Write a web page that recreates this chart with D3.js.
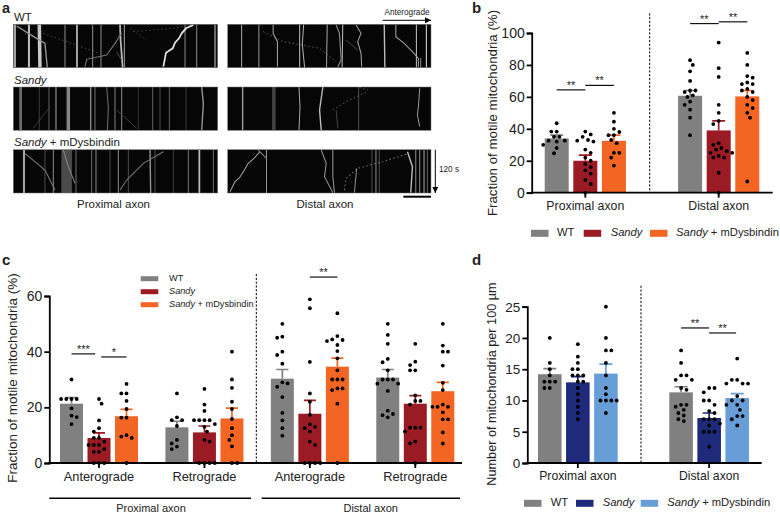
<!DOCTYPE html>
<html><head><meta charset="utf-8">
<script src="https://d3js.org/d3.v7.min.js"></script>
<style>html,body{margin:0;padding:0;background:#fff}svg{display:block}text{font-family:"Liberation Sans",Arial,sans-serif;fill:#222}</style>
</head><body><svg id="c" width="780" height="515"></svg>
<script>
// ---------- data: kymograph tracks, [intensity, thickness, dashed, [position, time]...] ----------
const wtProx=[[.6,6,0,[5,0],[5,130]],[.7,6,0,[47,0],[47,130]],[.75,10,0,[78,0],[80,130]],[.5,3,0,[155,0],[155,130]],[.85,4,0,[191,0],[191,130]],[.5,3,0,[238,0],[238,130]],[.5,3,0,[263,0],[263,130]],[.7,5,0,[320,0],[322,50],[328,130]],[.6,3,0,[333,0],[333,130]],[.5,3,0,[515,0],[515,130]],[.5,3,0,[550,0],[550,130]],[.4,6,0,[605,0],[605,130]],[.55,4,0,[10,5],[50,30],[95,57],[102,130]],[.85,5,0,[540,2],[518,12],[505,27],[497,42],[485,55],[478,72],[458,85],[450,127]],[.45,3,0,[215,127],[220,105],[280,92],[305,57],[325,27]],[.4,2,1,[90,27],[260,87]],[.35,2,1,[350,12],[400,47]],[.35,2,1,[360,22],[480,12],[530,2]],[.4,2,0,[310,82],[325,107]]];
const wtDist=[[.6,3,0,[42,0],[42,130]],[.55,3,0,[94,0],[94,130]],[.6,3,0,[137,2],[137,27],[150,52],[150,127]],[.7,3,0,[217,0],[217,130]],[.65,3,0,[229,0],[225,60],[232,130]],[.6,3,0,[300,0],[298,130]],[.7,3,0,[347,0],[345,130]],[.55,3,0,[327,2],[337,27],[342,107],[332,127]],[.6,3,0,[387,2],[402,27],[392,52],[402,87],[404,127]],[.7,4,0,[472,0],[474,130]],[.6,3,0,[507,2],[507,37],[532,57],[557,82],[575,102],[575,127]],[.7,3,0,[569,0],[569,130]],[.8,3,0,[599,0],[599,130]],[.5,3,0,[582,100],[582,130]],[.5,2,1,[107,22],[167,52],[277,72],[327,112]],[.4,2,0,[357,47],[392,77]]];
const sandyProx=[[.4,8,0,[22,0],[22,130]],[.3,2,0,[78,0],[78,130]],[.35,3,0,[107,0],[107,130]],[.45,4,0,[128,0],[128,130]],[.5,10,0,[165,0],[165,130]],[.5,4,0,[232,0],[232,130]],[.4,3,0,[245,0],[245,130]],[.4,3,0,[280,0],[285,60],[282,130]],[.45,3,0,[305,0],[305,130]],[.5,3,0,[325,0],[325,130]],[.25,2,0,[375,0],[375,130]],[.35,3,0,[418,0],[418,130]],[.4,2,0,[440,0],[440,130]],[.35,3,0,[468,0],[468,130]],[.3,2,0,[518,0],[518,130]],[.55,4,0,[565,0],[570,50],[565,130]],[.3,2,0,[60,124],[110,59]],[.3,2,0,[310,69],[370,124]]];
const sandyDist=[[.6,4,0,[45,0],[45,130]],[.25,10,0,[139,0],[139,130]],[.6,3,0,[215,0],[218,60],[215,130]],[.7,4,0,[287,0],[277,69],[282,130]],[.35,2,0,[327,69],[332,124]],[.4,2,0,[395,0],[395,130]],[.55,3,0,[579,4],[575,59],[572,84],[579,119]],[.5,2,1,[317,69],[367,39],[422,14]],[.45,2,1,[397,1],[422,9]]];
const rescueProx=[[.6,6,0,[32,0],[32,130]],[.4,2,0,[95,0],[95,130]],[.5,3,0,[120,0],[120,130]],[.28,30,0,[160,0],[160,130]],[.4,3,0,[188,0],[188,130]],[.4,3,0,[235,0],[235,130]],[.5,3,0,[248,0],[248,130]],[.35,2,0,[290,0],[290,130]],[.5,3,0,[315,0],[315,130]],[.4,2,0,[345,0],[345,130]],[.55,4,0,[410,0],[412,130]],[.4,2,0,[425,0],[425,130]],[.3,2,0,[480,0],[480,130]],[.4,3,0,[525,0],[525,130]],[.7,5,0,[558,0],[558,130]],[.4,3,0,[600,0],[600,130]],[.5,3,0,[150,1],[165,50],[185,101]],[.45,3,0,[35,11],[95,61],[125,121]],[.45,3,0,[320,121],[340,91],[390,41],[450,6]]];
const rescueDist=[[.6,3,0,[7,126],[22,96],[35,85],[47,66],[62,41],[80,25],[97,6]],[.5,3,0,[92,1],[117,26]],[.55,3,0,[117,0],[117,130]],[.55,3,0,[282,1],[297,41],[292,81],[317,129]],[.55,3,0,[317,1],[317,81],[322,129]],[.45,3,1,[352,121],[357,86],[392,56],[467,36],[547,11]],[.5,3,0,[389,56],[382,129]],[.4,2,0,[435,0],[435,130]],[.5,3,0,[447,0],[447,130]],[.4,2,0,[457,0],[457,130]],[.7,4,0,[542,6],[557,51],[552,129]],[.5,3,0,[567,0],[567,130]],[.5,3,0,[579,0],[579,130]],[.6,3,0,[592,0],[592,130]],[.5,2,0,[602,0],[602,130]]];

// ---------- data: bar charts ----------
const seriesNames=["WT","Sandy","Sandy + mDysbindin"];
const axonGroups=["Proximal axon","Distal axon"];
const directionGroups=["Anterograde (P)","Retrograde (P)","Anterograde (D)","Retrograde (D)"];

const bMeans=[[34,20,32.5],[60.7,39,60.3]];
const bErrors=[[36,23.5,36],[64,45,64]];
const bDots=[[[43.5,38.3,38.3,35,35,32.6,32.6,32,30,28,24.7],[38.3,36.5,35,33,32.6,32,27,25,22,20,18,16,14,12,8,5.5,0],[50,44.5,40,38,36,36,33,31,25,25,22,17]],
[[83,80,76,70,64,64,63,61,60,57,55,52,47,36],[94,78,72.5,55,50,45,43,31,30,28,27,26,25,25,23,22,22,12.5,0],[87.5,80,73,72,69,68,68,65,64,63,60,58,55,53,50,47,7]]];
const bSig=[[0,0,1,64.4,"**"],[0,1,2,67.2,"**"],[1,0,1,105.9,"**"],[1,1,2,107,"**"]];

const cMeans=[[21.3,9,16.8],[12.8,11,16],[30.3,17.7,34.6],[30.7,21.3,25.8]];
const cErrors=[[23.5,10.8,19.3],[15,13.3,19.7],[33.6,22.5,37.7],[33.6,24.2,29]];
const cDots=[[[30,23,23,23,23,19.6,17,16.5,14],[23,21.3,15.3,12.5,11.3,9,9,7.7,6.5,6.5,6.5,5,4,4,0,0,0],[28.4,25,25,22.3,19.4,16.3,16.3,10,9.5,9,0]],
[[25,16.4,15.4,15.4,13.3,8.3,7,5.9,5],[26.6,21,18.7,15.4,15.4,15.4,15.4,14,13,11.3,8.3,7.7,0,0,0,0],[40,30,27,22,19.4,15.8,12.5,10,8.3,6,0,0]],
[[50,45.4,45,40,38.8,35.7,29,28.6,27.4,23.7,18,15.3,12.5,9.8],[58.8,55.6,36.3,25,22,17.3,13.9,13,12.5,11.3,7.7,6.5,0,0,0,0],[53.8,45.6,44.4,44.2,43.8,42.4,40.2,37.6,33.3,30,30,30,26.8,26.8,26.2,21.3,0]],
[[50,46,42.8,37.4,36.2,33.3,30,30,30,28.5,28.5,25.9,18.8,17.6,17.2,16.4],[42.8,36.4,35.2,33.3,33.3,24.3,22.3,22.3,21,12.7,12.7,12.7,11.3,7.7,7,0],[50,42.2,40,40,35,28.8,26.2,21,20.2,20.2,20.2,18.2,15.7,15.7,11,7]]];
const cSig=[[0,0,.86,39.2,"***"],[0,1.08,2,38.1,"*"],[2,1,2,66.8,"**"]];

const dMeans=[[14.2,12.9,14.3],[11.3,7.2,10.4]];
const dErrors=[[15.1,13.8,15.8],[12.2,8,11.1]];
const dDots=[[[20,16,15,14,13,13,13,12,12],[19,17,16,15,15,14,14,14,13,13,12,11,10,9,8,7],[25,20,18,18,16,14,12,11,10,10,10,10,8]],
[[18,16,14,14,13.3,13.3,12,11.7,9.3,9.3,9,8.5,8,7.6,7,6.7],[12,12,11.3,10,10,9.3,8.3,8,7,7,7,6.3,6,5,5,5,2.6],[16.7,13.3,13.3,12.7,12.7,12.7,10.7,10,10,9.3,9.3,8.5,7.5,7.5,7,6]]];
const dSig=[[1,0,1,21.6,"**"],[1,1,1.96,20.8,"**"]];

const redPalette=["#808080","#9b1b24","#f26522"];
const bluePalette=["#808080","#1f2a7a","#689ed8"];

// ---------- drawing ----------
const svg=d3.select("#c");
const defs=svg.append("defs");
defs.append("filter").attr("id","soft").append("feGaussianBlur").attr("stdDeviation",.6);
defs.append("marker").attr("id","arA").attr("viewBox","0 0 6 6").attr("refX",6).attr("refY",3).attr("markerWidth",6).attr("markerHeight",6).attr("markerUnits","userSpaceOnUse").attr("orient","auto")
   .append("path").attr("d","M0,0L6,3L0,6Z").attr("fill","#000");
function txt(x,y,s,size,o={}){
  const t=svg.append("text").attr("x",x).attr("y",y).attr("font-size",size)
    .attr("text-anchor",o.anchor||"start").attr("dominant-baseline","middle");
  if(o.bold)t.attr("font-weight","bold");
  if(o.rotate)t.attr("transform",`rotate(-90,${x},${y})`);
  return t.text(s);
}
function seriesLabel(sel,name){
  sel.text(null);
  if(name==="WT"){sel.text("WT");return;}
  sel.append("tspan").attr("font-style","italic").text("Sandy");
  if(name!=="Sandy")sel.append("tspan").text(" + mDysbindin");
}
// panel a
function kymo(tracks,x0,x1,y0,y1){
  const x=d3.scaleLinear().domain([0,613]).range([x0,x1]);
  const t=d3.scaleLinear().domain([0,130]).range([y0,y1]);
  const id="k"+Math.round(x0)+"_"+Math.round(y0);
  defs.append("clipPath").attr("id",id).append("rect").attr("x",x0).attr("y",y0).attr("width",x1-x0).attr("height",y1-y0);
  svg.append("rect").attr("x",x0).attr("y",y0).attr("width",x1-x0).attr("height",y1-y0).attr("fill","#060606");
  const line=d3.line().x(d=>x(d[0])).y(d=>t(d[1]));
  svg.append("g").attr("clip-path",`url(#${id})`).append("g").attr("filter","url(#soft)")
    .selectAll("path").data(tracks).join("path")
    .attr("fill","none").attr("d",d=>line(d.slice(3)))
    .attr("stroke",d=>d3.interpolateRgb("#000","#fff")(Math.min(1,d[0]*1.05)))
    .attr("stroke-width",d=>(x(d[1])-x(0))*1.05)
    .attr("stroke-dasharray",d=>d[2]?"1.5,2.5":null);
  svg.append("rect").attr("x",x0).attr("y",y0).attr("width",x1-x0).attr("height",y1-y0).attr("fill","none").attr("stroke","#777").attr("stroke-width",.5);
}
const colsA=[[13.3,217.7],[227.7,431]],rowsA=[[24.3,67.7],[87,130.3],[149.7,193]];
[[wtProx,wtDist],[sandyProx,sandyDist],[rescueProx,rescueDist]].forEach((row,r)=>row.forEach((tr,c)=>kymo(tr,colsA[c][0],colsA[c][1],rowsA[r][0],rowsA[r][1])));
txt(2,9,"a",14.5,{bold:1});
txt(14,18,"WT",11.5);
seriesLabel(txt(14,80.5,"",11.5),"Sandy");
seriesLabel(txt(14,143,"",11.5),"Sandy + mDysbindin");
txt(113.5,205,"Proximal axon",11.5,{anchor:"middle"});
txt(325,205,"Distal axon",11.5,{anchor:"middle"});
txt(407,12.5,"Anterograde",8.2,{anchor:"middle"});
svg.append("line").attr("x1",382.7).attr("x2",431).attr("y1",20.3).attr("y2",20.3).attr("stroke","#000").attr("marker-end","url(#arA)");
svg.append("line").attr("x1",435.3).attr("x2",435.3).attr("y1",149.7).attr("y2",193).attr("stroke","#000").attr("marker-end","url(#arA)");
txt(439,170,"120 s",8.2);
svg.append("line").attr("x1",403.3).attr("x2",431).attr("y1",196.7).attr("y2",196.7).attr("stroke","#000").attr("stroke-width",2);

function swarm(vals,y,minD){
  const placed=[];
  [...vals].sort((a,b)=>b-a).forEach((v,i)=>{
    const py=y(v);let k=0,off=0;
    const sign=i%2?1:-1;
    while(true){
      off=k===0?0:(k%2?sign:-sign)*Math.ceil(k/2)*minD/2;
      if(placed.every(p=>Math.hypot(p.x-off,p.y-py)>=minD))break;
      k++;
    }
    placed.push({x:off,y:py});
  });
  return placed;
}
function barPanel(p){
  const y=d3.scaleLinear().domain(p.yDomain).range([p.yBottom,p.yTop]);
  const gx=d3.scaleBand().domain(p.groups).range(p.range).paddingInner(p.groupPad);
  const bx=d3.scaleBand().domain(d3.range(3)).range([0,gx.bandwidth()]).paddingInner(p.barPad);
  const root=svg.append("g");
  p.groups.forEach((g,gi)=>{
    const G=root.append("g").attr("transform",`translate(${gx(g)},0)`);
    G.selectAll("rect").data(p.means[gi]).join("rect")
      .attr("x",(d,i)=>bx(i)).attr("width",bx.bandwidth())
      .attr("y",d=>y(d)).attr("height",d=>y(0)-y(d)).attr("fill",(d,i)=>p.colors[i]);
    p.errors[gi].forEach((e,i)=>{
      const cx=bx(i)+bx.bandwidth()/2;
      G.append("path").attr("d",`M${cx},${y(p.means[gi][i])}V${y(e)}M${cx-p.cap},${y(e)}H${cx+p.cap}`)
        .attr("fill","none").attr("stroke",p.colors[i]).attr("stroke-width",1.7);
    });
    p.dots[gi].forEach((vals,i)=>{
      const cx=bx(i)+bx.bandwidth()/2;
      G.append("g").selectAll("circle").data(swarm(vals,y,p.minD)).join("circle")
        .attr("cx",d=>cx+d.x).attr("cy",d=>d.y).attr("r",1.9).attr("fill","#000");
    });
  });
  const barX=(g,i)=>gx(p.groups[g])+bx(0)+bx.bandwidth()/2+i*bx.step();
  p.sig.forEach(([g,a,b,v,s])=>{
    root.append("line").attr("x1",barX(g,a)).attr("x2",barX(g,b)).attr("y1",y(v)).attr("y2",y(v)).attr("stroke","#111").attr("stroke-width",1.2);
    root.append("text").attr("x",(barX(g,a)+barX(g,b))/2).attr("y",y(v)-1).attr("text-anchor","middle").attr("font-size",11).text(s);
  });
  const yAxis=d3.axisLeft(y).tickValues(p.ticks).tickSizeOuter(0).tickSize(5).tickPadding(2);
  const ya=svg.append("g").attr("transform",`translate(${p.axisX},0)`).call(yAxis);
  ya.selectAll("text").attr("font-size",p.tickFont).attr("fill","#222");
  ya.selectAll(".domain,line").attr("stroke","#000").attr("stroke-width",1.8);
  const xa=svg.append("g").attr("transform",`translate(0,${p.yBottom})`);
  xa.append("line").attr("x1",p.axisX-1).attr("x2",p.axisEnd).attr("stroke","#000").attr("stroke-width",1.8);
  p.groups.forEach((g,gi)=>{
    const cx=gx(g)+gx.bandwidth()/2;
    xa.append("line").attr("x1",cx).attr("x2",cx).attr("y2",5).attr("stroke","#000").attr("stroke-width",1.8);
    xa.append("text").attr("x",cx).attr("y",p.xLabelY).attr("text-anchor","middle").attr("dominant-baseline","middle").attr("font-size",p.xFont).text(g.replace(/ \(.\)$/,""));
  });
  svg.append("line").attr("x1",p.sepX).attr("x2",p.sepX).attr("y1",p.sepTop).attr("y2",p.yBottom).attr("stroke","#000").attr("stroke-width",1).attr("stroke-dasharray","2.2,1.6");
  txt(p.titleX,p.titleY,p.title,p.titleFont,{anchor:"middle",rotate:1});
}
function hLegend(items,colors,y,size){
  items.forEach((it,i)=>{
    svg.append("rect").attr("x",it[0]).attr("y",y-3.5).attr("width",17.5).attr("height",7).attr("fill",colors[i]);
    seriesLabel(txt(it[1],y,"",size),seriesNames[i]);
  });
}
barPanel({groups:axonGroups,means:bMeans,errors:bErrors,dots:bDots,sig:bSig,colors:redPalette,yDomain:[0,100],yBottom:192.7,yTop:33,range:[544.7,759.3],groupPad:.391,barPad:.16,cap:6.5,minD:5.4,ticks:[0,20,40,60,80,100],axisX:531.7,axisEnd:772.7,tickFont:14,xFont:12.3,xLabelY:14.5,sepX:649.7,sepTop:13.3,title:"Fraction of motile mitochondria (%)",titleX:493,titleY:113,titleFont:13.3});
hLegend([[531,557],[583.7,610.7],[650,676]],redPalette,233.3,11.2);
txt(472,9,"b",15,{bold:1});

barPanel({groups:directionGroups,means:cMeans,errors:cErrors,dots:cDots,sig:cSig,colors:redPalette,yDomain:[0,60],yBottom:463,yTop:296,range:[60,454.3],groupPad:.26,barPad:.164,cap:6,minD:5.2,ticks:[0,20,40,60],axisX:49.3,axisEnd:462,tickFont:14,xFont:12.8,xLabelY:14.7,sepX:256.3,sepTop:274,title:"Fraction of motile mitochondria (%)",titleX:13.3,titleY:378,titleFont:13.5});
seriesNames.forEach((n,i)=>{
  svg.append("rect").attr("x",140.7).attr("y",[278.7,291.7,304.7][i]-2.5).attr("width",17.6).attr("height",5).attr("fill",redPalette[i]);
  seriesLabel(txt(169,[278.7,291.7,304.7][i],"",9.2),n);
});
[[49.3,251,151,"Proximal axon"],[261.7,460,370.7,"Distal axon"]].forEach(([a,b,m,s])=>{
  svg.append("line").attr("x1",a).attr("x2",b).attr("y1",498.3).attr("y2",498.3).attr("stroke","#000").attr("stroke-width",1.6);
  txt(m,509,s,11,{anchor:"middle"});
});
txt(2,261,"c",15,{bold:1});

barPanel({groups:axonGroups,means:dMeans,errors:dErrors,dots:dDots,sig:dSig,colors:bluePalette,yDomain:[0,25],yBottom:463,yTop:306.7,range:[538,749],groupPad:.393,barPad:.16,cap:6.5,minD:5.4,ticks:[0,5,10,15,20,25],axisX:527.3,axisEnd:761.7,tickFont:13.5,xFont:12.2,xLabelY:14,sepX:641,sepTop:285.7,title:"Number of mitochondria per 100 \u00b5m",titleX:493,titleY:384,titleFont:12.7});
hLegend([[524,550.7],[576,602.7],[640.7,667.3]],bluePalette,503.3,11.2);
txt(472,261,"d",15,{bold:1});
</script></body></html>
